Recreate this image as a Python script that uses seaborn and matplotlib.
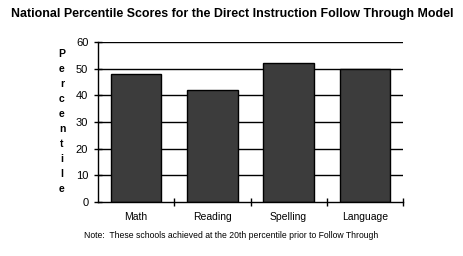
import matplotlib
matplotlib.use("Agg")
import matplotlib.pyplot as plt
import seaborn as sns
import pandas as pd

categories = ["Math", "Reading", "Spelling", "Language"]
percentiles = [48, 42, 52, 50]
yticks = [0, 10, 20, 30, 40, 50, 60]
title = "National Percentile Scores for the Direct Instruction Follow Through Model"
ylabel = "Percentile"
note = "Note:  These schools achieved at the 20th percentile prior to Follow Through"

sns.set_theme(style="white")
plt.rcParams['font.family'] = ['Liberation Sans', 'DejaVu Sans']
plt.rcParams['text.color'] = 'black'
plt.rcParams['xtick.color'] = 'black'
plt.rcParams['ytick.color'] = 'black'

df = pd.DataFrame({"cat": categories, "val": percentiles})

fig = plt.figure(figsize=(4.64, 2.56), dpi=100)
ax = fig.add_axes([98/464, 1-202/256, 305/464, 160/256])
ax.set_axisbelow(True)
for v in yticks[1:]:
    ax.axhline(v, color="black", lw=1.0, zorder=0)
sns.barplot(data=df, x="cat", y="val", ax=ax, color="#3c3c3c", saturation=1,
            width=0.66, edgecolor="black", linewidth=1.0, zorder=2)
ax.set_ylim(0, 60)
ax.set_xlim(-0.5, 3.5)
ax.set_yticks(yticks)
ax.set_yticklabels([str(v) for v in yticks], fontsize=8)
ax.set_xticks([0.5, 1.5, 2.5, 3.5], minor=False)
ax.set_xticklabels([])
for i, c in enumerate(categories):
    ax.text(i, -5.5, c, ha="center", va="center", fontsize=7.5, color="black")
ax.tick_params(axis="y", direction="inout", length=6, width=1, color="black", pad=4, left=True)
ax.tick_params(axis="x", direction="inout", length=6, width=1, color="black", bottom=True)
ax.set_xlabel("")
ax.set_ylabel("")
for s in ["top", "right"]:
    ax.spines[s].set_visible(False)
for s in ["left", "bottom"]:
    ax.spines[s].set_color("black")
    ax.spines[s].set_linewidth(1.0)

fig.text(232/464, 1-14/256, title, ha="center", va="center", fontsize=8.95, fontweight="bold", color="black")
for i, ch in enumerate(ylabel):
    fig.text(62/464, 1-(54 + i*15)/256, ch, ha="center", va="center", fontsize=7.5, fontweight="bold", color="black")
fig.text(84/464, 1-236/256, note, ha="left", va="center", fontsize=6.2, color="black")

fig.savefig("out.png", dpi=100, facecolor="white")
